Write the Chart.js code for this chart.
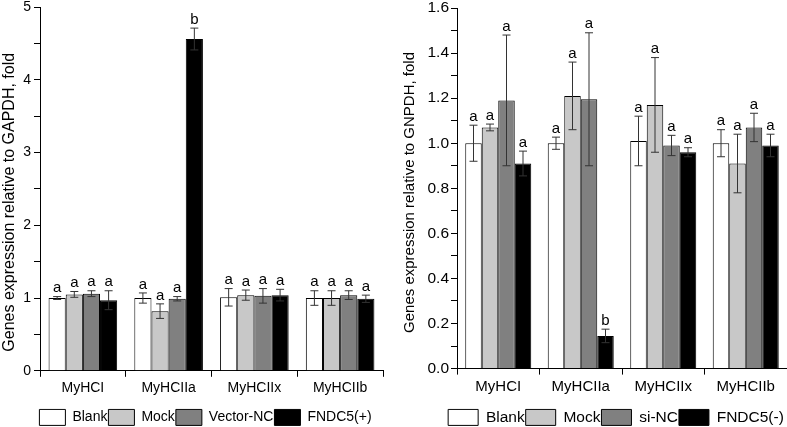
<!DOCTYPE html>
<html>
<head>
<meta charset="utf-8">
<script src="https://cdn.jsdelivr.net/npm/chart.js@4.4.1/dist/chart.umd.min.js"></script>
<style>
  body { margin: 0; background: #fff; }
  #left { position: absolute; left: 0; top: 0; width: 395px; height: 427px; }
  #right { position: absolute; left: 395px; top: 0; width: 392px; height: 427px; }
</style>
</head>
<body>
<div id="left"><canvas id="c1"></canvas></div>
<div id="right"><canvas id="c2"></canvas></div>
<script>
const genes = ['MyHCI', 'MyHCIIa', 'MyHCIIx', 'MyHCIIb'];
const fills = ['#ffffff', '#c8c8c8', '#808080', '#000000'];

// left panel: overexpression
const leftNames = ['Blank', 'Mock', 'Vector-NC', 'FNDC5(+)'];
const leftBlank = [1.00, 1.00, 1.01, 1.00];
const leftMock = [1.05, 0.82, 1.04, 1.00];
const leftVector = [1.06, 0.99, 1.03, 1.04];
const leftFndc = [0.97, 4.56, 1.04, 0.99];
const leftBlankErr = [0.02, 0.07, 0.12, 0.10];
const leftMockErr = [0.04, 0.10, 0.07, 0.10];
const leftVectorErr = [0.04, 0.03, 0.10, 0.06];
const leftFndcErr = [0.13, 0.15, 0.08, 0.05];
const leftLetters = [
  ['a', 'a', 'a', 'a'],
  ['a', 'a', 'a', 'a'],
  ['a', 'a', 'a', 'a'],
  ['a', 'b', 'a', 'a']
];

// right panel: knockdown
const rightNames = ['Blank', 'Mock', 'si-NC', 'FNDC5(-)'];
const rightBlank = [1.00, 1.00, 1.01, 1.00];
const rightMock = [1.07, 1.21, 1.17, 0.91];
const rightSiNC = [1.19, 1.195, 0.99, 1.07];
const rightFndc = [0.91, 0.145, 0.96, 0.99];
const rightBlankErr = [0.08, 0.027, 0.11, 0.06];
const rightMockErr = [0.015, 0.15, 0.21, 0.13];
const rightSiNCErr = [0.29, 0.295, 0.045, 0.063];
const rightFndcErr = [0.055, 0.03, 0.02, 0.05];
const rightLetters = [
  ['a', 'a', 'a', 'a'],
  ['a', 'a', 'a', 'a'],
  ['a', 'a', 'a', 'a'],
  ['a', 'b', 'a', 'a']
];

Chart.defaults.font.family = '"Liberation Sans", Arial, sans-serif';
Chart.defaults.font.size = 14;
Chart.defaults.color = '#000';

// error bars and significance letters, drawn after the bars
const errorBarPlugin = {
  id: 'errorBars',
  afterLayout(chart) {
    // nudge the legend sideways, like in the original figure
    const dx = chart.options.legendShift || 0;
    chart.legend.left += dx;
    chart.legend.right += dx;
  },
  afterDatasetsDraw(chart) {
    const ctx = chart.ctx;
    const y = chart.scales.y;
    chart.data.datasets.forEach((ds, i) => {
      const meta = chart.getDatasetMeta(i);
      meta.data.forEach((bar, j) => {
        const v = ds.data[j];
        const e = ds.errors[j];
        const top = y.getPixelForValue(v + e);
        const bot = y.getPixelForValue(v - e);
        ctx.save();
        ctx.strokeStyle = '#333';
        ctx.lineWidth = 1;
        ctx.beginPath();
        ctx.moveTo(bar.x, top);
        ctx.lineTo(bar.x, bot);
        ctx.moveTo(bar.x - 4, top);
        ctx.lineTo(bar.x + 4, top);
        ctx.moveTo(bar.x - 4, bot);
        ctx.lineTo(bar.x + 4, bot);
        ctx.stroke();
        ctx.fillStyle = '#000';
        ctx.font = '15px "Liberation Sans", Arial, sans-serif';
        ctx.textAlign = 'center';
        ctx.textBaseline = 'bottom';
        ctx.fillText(ds.letters[j], bar.x, top - 1);
        ctx.restore();
      });
    });
  }
};

function makeChart(id, names, series, errors, letters, yOpts, cfg) {
  const datasets = names.map((n, i) => ({
    label: n,
    data: series[i],
    errors: errors[i],
    letters: letters[i],
    backgroundColor: fills[i],
    borderColor: '#000',
    borderWidth: 1,
    categoryPercentage: 0.8,
    barPercentage: 1.0
  }));

  return new Chart(document.getElementById(id), {
    type: 'bar',
    data: { labels: genes, datasets },
    plugins: [errorBarPlugin],
    options: {
      responsive: true,
      maintainAspectRatio: false,
      animation: false,
      legendShift: cfg.legendShift,
      layout: { padding: { left: 0, right: cfg.padRight, top: cfg.padTop, bottom: -8.4 } },
      plugins: {
        tooltip: { enabled: false },
        legend: {
          position: 'bottom',
          labels: { boxWidth: cfg.boxWidth, boxHeight: 16, padding: 1, color: '#000', font: { size: cfg.legendFont } }
        }
      },
      scales: {
        x: {
          grid: { offset: true, drawOnChartArea: false, drawTicks: true, tickLength: 6, tickColor: '#000' },
          border: { display: true, color: '#000', width: 1 },
          ticks: { color: '#000', padding: 3, font: { size: cfg.xFont } },
          afterFit: s => { s.height = cfg.xHeight; }
        },
        y: Object.assign({
          grid: { drawOnChartArea: false, drawTicks: true, tickLength: 6, tickColor: '#000' },
          border: { display: true, color: '#000', width: 1 },
          title: { display: true, text: cfg.title, color: '#000', font: { size: cfg.titleFont }, padding: { top: cfg.titlePad, bottom: 0 } },
          afterFit: s => { s.width = cfg.yWidth; }
        }, yOpts)
      }
    }
  });
}

makeChart('c1', leftNames,
  [leftBlank, leftMock, leftVector, leftFndc],
  [leftBlankErr, leftMockErr, leftVectorErr, leftFndcErr],
  leftLetters,
  {
    min: 0, max: 5,
    ticks: {
      stepSize: 0.5, color: '#000', padding: 3, font: { size: 14, lineHeight: 0.4 },
      callback: v => Number.isInteger(v) ? v : ''
    }
  },
  { title: 'Genes expression relative to GAPDH, fold      ', titleFont: 16, yWidth: 40, titlePad: 0,
    padRight: 12, padTop: 7, xHeight: 37.6, xFont: 14, legendFont: 14, boxWidth: 26, legendShift: 14 });

makeChart('c2', rightNames,
  [rightBlank, rightMock, rightSiNC, rightFndc],
  [rightBlankErr, rightMockErr, rightSiNCErr, rightFndcErr],
  rightLetters,
  {
    min: 0, max: 1.6,
    ticks: {
      stepSize: 0.1, color: '#000', padding: 2, font: { size: 15.5, lineHeight: 0.4 },
      callback: v => (Math.round(v * 10) % 2 === 0) ? v.toFixed(1) : ''
    }
  },
  { title: 'Genes expression relative to GNPDH, fold  ', titleFont: 15, yWidth: 62, titlePad: 6,
    padRight: 0, padTop: 8, xHeight: 39.8, xFont: 15, legendFont: 15.5, boxWidth: 30, legendShift: 25 });
</script>
</body>
</html>
